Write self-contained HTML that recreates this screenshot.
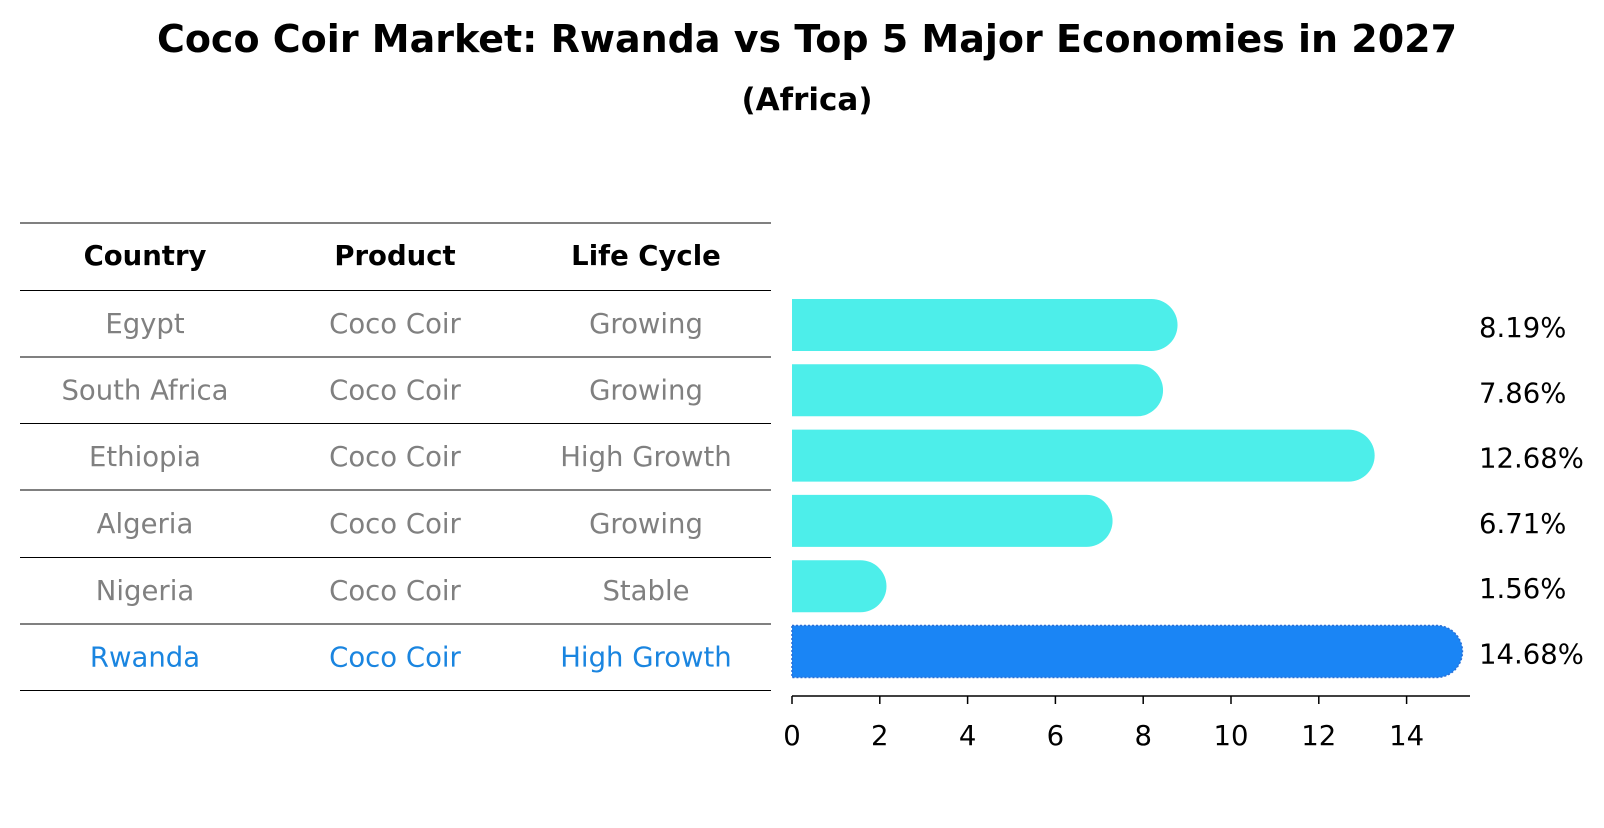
<!DOCTYPE html>
<html><head><meta charset="utf-8"><style>
body{margin:0;background:#fff;}
svg text{font-family:"DejaVu Sans","Liberation Sans",sans-serif;}
</style></head><body>
<svg id="chart" width="1604" height="823" viewBox="0 0 1604 823" xmlns="http://www.w3.org/2000/svg">
<text x="807" y="52" text-anchor="middle" font-size="38" font-weight="bold">Coco Coir Market: Rwanda vs Top 5 Major Economies in 2027</text>
<text x="807" y="110" text-anchor="middle" font-size="31" font-weight="bold">(Africa)</text>
<g id="table"></g>
<g id="bars"></g>
<g id="xaxis"></g>
</svg>
<script>
const countries = ["Egypt","South Africa","Ethiopia","Algeria","Nigeria","Rwanda"];
const products = ["Coco Coir","Coco Coir","Coco Coir","Coco Coir","Coco Coir","Coco Coir"];
const lifeCycles = ["Growing","Growing","High Growth","Growing","Stable","High Growth"];
const values = [8.19,7.86,12.68,6.71,1.56,14.68];
const valueLabels = ["8.19%","7.86%","12.68%","6.71%","1.56%","14.68%"];
const ticks = [0,2,4,6,8,10,12,14];

const NS="http://www.w3.org/2000/svg";
const X0=792, UNIT=43.9;
const xs=v=>X0+v*UNIT;
const rowY=i=>325+i*65.3;
const BH=52, R=26;
const FS=27.5;
function mk(tag,attrs,parent,text){const e=document.createElementNS(NS,tag);for(const k in attrs)e.setAttribute(k,attrs[k]);if(text!==undefined)e.textContent=text;parent.appendChild(e);return e;}

const table=document.getElementById('table');
const lineYs=[223,290.5,357,423.5,490,557.5,624,690.5];
lineYs.forEach((y,i)=>{
  const l=mk('line',{x1:20,x2:771,y1:y,y2:y,stroke:'#000','stroke-width':1},table);
  
  
});
const colX=[145,395,646];
const heads=["Country","Product","Life Cycle"];
heads.forEach((h,j)=>{
  const t=mk('text',{x:colX[j],y:265,'text-anchor':'middle','font-size':FS,'font-weight':'bold'},table,h);
  
  
});
countries.forEach((c,i)=>{
  const y=(lineYs[i+1]+lineYs[i+2])/2+9;
  const col=i===countries.length-1?'#1a85e0':'#808080';
  [c,products[i],lifeCycles[i]].forEach((s,j)=>{
    const t=mk('text',{x:colX[j],y:y,'text-anchor':'middle','font-size':FS,fill:col},table,s);
    
    
  });
});

const bars=document.getElementById('bars');
values.forEach((v,i)=>{
  const last=i===values.length-1;
  const col=last?'#1a85f5':'#4deeea';
  const yc=rowY(i);
  const x1=xs(v);
  const d=`M${X0},${yc-BH/2} L${x1},${yc-BH/2} A${R},${R} 0 0 1 ${x1},${yc+BH/2} L${X0},${yc+BH/2} Z`;
  const p=mk('path',{d:d,fill:col},bars);
  if(last){p.setAttribute('stroke','#2a6fd6');p.setAttribute('stroke-width','1.5');p.setAttribute('stroke-dasharray','2 2');}
  
  
  const t=mk('text',{x:1479,y:yc+12,'font-size':FS},bars,valueLabels[i]);
  
  
});

const ax=document.getElementById('xaxis');
const al=mk('line',{x1:X0,x2:1470,y1:696,y2:696,stroke:'#000','stroke-width':1.5},ax);


ticks.forEach(v=>{
  const tl=mk('line',{x1:xs(v),x2:xs(v),y1:696,y2:704,stroke:'#000','stroke-width':1.5},ax);
  
  
  const t=mk('text',{x:xs(v),y:745,'text-anchor':'middle','font-size':FS},ax,String(v));
  
  
});
</script>
</body></html>
